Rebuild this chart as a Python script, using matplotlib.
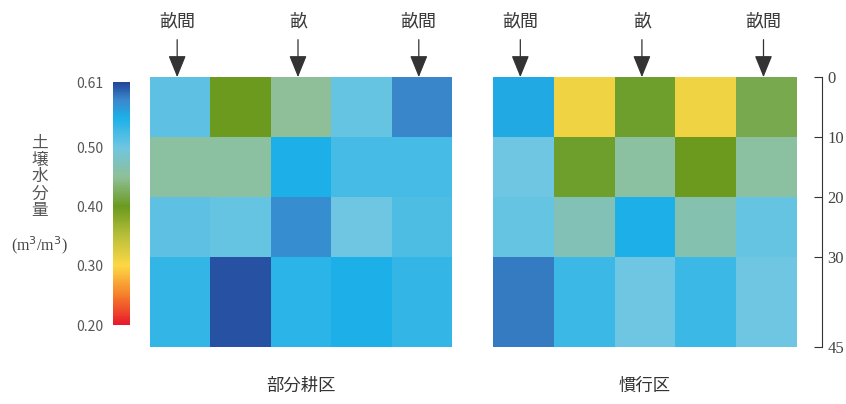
import matplotlib
matplotlib.use("Agg")
import matplotlib.pyplot as plt
import numpy as np
from matplotlib.colors import LinearSegmentedColormap, Normalize

plt.rcParams['font.family'] = ['Noto Sans CJK JP', 'DejaVu Sans']

depth_edges = [0, 10, 20, 30, 45]
depth_ticks = [0, 10, 20, 30, 45]
n_cols = 5
top_labels = ['畝間', '畝', '畝間']
top_label_cols = [0, 2, 4]
plot_titles = ['部分耕区', '慣行区']

partial = [
    [0.51, 0.40, 0.45, 0.505, 0.58],
    [0.455, 0.455, 0.55, 0.525, 0.525],
    [0.51, 0.505, 0.575, 0.50, 0.52],
    [0.535, 0.605, 0.54, 0.55, 0.535],
]
conventional = [
    [0.555, 0.31, 0.405, 0.31, 0.42],
    [0.50, 0.405, 0.455, 0.40, 0.455],
    [0.505, 0.47, 0.55, 0.465, 0.505],
    [0.585, 0.53, 0.50, 0.53, 0.50],
]
cbar_ticks = [0.20, 0.30, 0.40, 0.50, 0.61]
vmin, vmax = 0.20, 0.61

nodes = [0.20, 0.25, 0.30, 0.35, 0.40, 0.45, 0.50, 0.55, 0.58, 0.61]
cols = ['#e8192c', '#f57f2a', '#fdd845', '#b9bf3a', '#6a9a1e',
        '#8fbf98', '#6fc6e2', '#1cb0e8', '#3a88cc', '#23469a']
cmap = LinearSegmentedColormap.from_list(
    'sm', [((v - vmin) / (vmax - vmin), c) for v, c in zip(nodes, cols)])
norm = Normalize(vmin, vmax)

fig = plt.figure(figsize=(8.46, 4.04), dpi=100)
ax1 = fig.add_axes([0.1773, 0.141, 0.357, 0.668])
ax2 = fig.add_axes([0.5827, 0.141, 0.3593, 0.668])
cax = fig.add_axes([0.1336, 0.1955, 0.0201, 0.6015])

xe = np.arange(n_cols + 1) - 0.5
for ax, data, title in [(ax1, partial, plot_titles[0]), (ax2, conventional, plot_titles[1])]:
    ax.pcolormesh(xe, depth_edges, np.array(data), cmap=cmap, norm=norm)
    ax.set_xlim(-0.5, n_cols - 0.5)
    ax.set_ylim(45, 0)
    for s in ax.spines.values():
        s.set_visible(False)
    ax.set_xticks([])
    ax.set_yticks([])
    for lab, c in zip(top_labels, top_label_cols):
        ax.annotate('', xy=(c - 0.05, 0), xycoords='data',
                    xytext=(0, 27), textcoords='offset points',
                    arrowprops=dict(arrowstyle='-|>,head_length=1.35,head_width=0.55',
                                    color='#333333', lw=0.9, shrinkA=0, shrinkB=0))
        ax.annotate(lab, xy=(c - 0.05, 0), xycoords='data',
                    xytext=(0, 40), textcoords='offset points',
                    ha='center', va='center', fontsize=13, color='#3a3a3a')
    ax.text(0.5, -0.145, title, transform=ax.transAxes, ha='center', va='center',
            fontsize=12.5, color='#333333')

# depth axis on the right
ax2.spines['right'].set_visible(True)
ax2.spines['right'].set_position(('outward', 18))
ax2.spines['right'].set_color('#333333')
ax2.yaxis.tick_right()
ax2.set_yticks(depth_ticks)
ax2.set_yticklabels([str(t) for t in depth_ticks], fontfamily='Liberation Serif',
                    fontsize=12, color='#444444')
ax2.tick_params(axis='y', direction='in', length=6, color='#333333', pad=4)

# colorbar
sm = matplotlib.cm.ScalarMappable(norm=norm, cmap=cmap)
cb = fig.colorbar(sm, cax=cax)
cb.outline.set_visible(False)
cax.yaxis.set_ticks_position('left')
cax.yaxis.set_label_position('left')
cb.set_ticks(cbar_ticks)
cb.set_ticklabels(['%.2f' % t for t in cbar_ticks])
cax.tick_params(axis='y', length=0, pad=7, labelsize=10, labelcolor='#555555')

fig.text(0.047, 0.562, '土\n壌\n水\n分\n量', ha='center', va='center',
         fontsize=12, color='#555555', linespacing=1.0)
fig.text(0.047, 0.394, '(m$^3$/m$^3$)', ha='center', va='center',
         fontsize=11.5, color='#444444', fontfamily='Liberation Serif')

fig.savefig('out.png', dpi=100)
